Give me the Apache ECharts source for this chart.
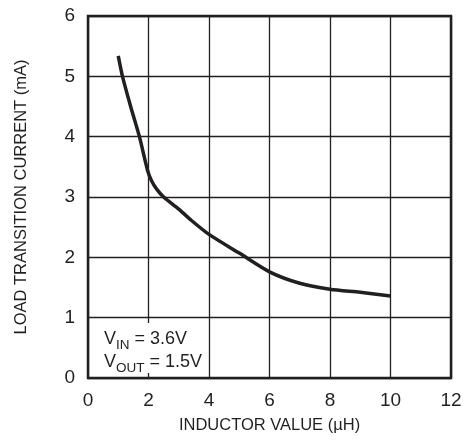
<!DOCTYPE html>
<html lang="en">
<head>
    <meta charset="UTF-8">
    <title>Load Transition Current vs Inductor Value</title>
    <script src="https://cdn.jsdelivr.net/npm/echarts@6/dist/echarts.min.js"></script>
    <style>
        html, body { margin: 0; padding: 0; background: #fff; }
    </style>
</head>
<body>
<div id="main" style="width: 476px;height:442px;"></div>

<script type="text/javascript">
    // inductor value (uH) and load transition current (mA)
    var inductance = [1, 1.14, 1.41, 1.7, 1.97, 2.1, 2.27, 2.5, 3, 3.4, 4, 5, 6, 7, 8, 9, 10];
    var current = [5.34, 5.0, 4.5, 4.0, 3.44, 3.27, 3.13, 3.0, 2.8, 2.62, 2.38, 2.07, 1.76, 1.57, 1.47, 1.42, 1.36];

    var xTicks = [0, 2, 4, 6, 8, 10, 12];
    var yTicks = [0, 1, 2, 3, 4, 5, 6];

    var ink = '#231f20';
    var font = '"Liberation Sans", Arial, sans-serif';

    var points = [];
    for (var i = 0; i < inductance.length; i++) {
        points.push([inductance[i], current[i]]);
    }

    var myChart = echarts.init(document.getElementById('main'));

    var option = {
        animation: false,
        backgroundColor: '#fff',
        textStyle: { fontFamily: font, color: ink },
        grid: {
            left: 88,
            right: 25,
            top: 16,
            bottom: 64,
            show: true,
            borderColor: ink,
            borderWidth: 2.5,
            backgroundColor: 'transparent'
        },
        xAxis: {
            type: 'value',
            min: xTicks[0],
            max: xTicks[xTicks.length - 1],
            interval: 2,
            name: 'INDUCTOR VALUE (\u00b5H)',
            nameLocation: 'middle',
            nameGap: 39,
            nameTextStyle: { fontSize: 16.5, color: ink, fontFamily: font },
            axisLine: { show: false },
            axisTick: { show: false },
            axisLabel: { fontSize: 19, color: ink, margin: 13, fontFamily: font },
            splitLine: { show: true, lineStyle: { color: ink, width: 1.3 } }
        },
        yAxis: {
            type: 'value',
            min: yTicks[0],
            max: yTicks[yTicks.length - 1],
            interval: 1,
            name: 'LOAD TRANSITION CURRENT (mA)',
            nameLocation: 'middle',
            nameGap: 58,
            nameTextStyle: { fontSize: 16.5, color: ink, fontFamily: font },
            axisLine: { show: false },
            axisTick: { show: false },
            axisLabel: { fontSize: 19, color: ink, margin: 13, fontFamily: font },
            splitLine: { show: true, lineStyle: { color: ink, width: 1.3 } }
        },
        graphic: [{
            type: 'text',
            left: 102,
            top: 323,
            z: 10,
            style: {
                text: '{v|V}{s|IN}{v| = 3.6V}\n{v|V}{s|OUT}{v| = 1.5V}',
                fill: ink,
                backgroundColor: '#fff',
                padding: [2, 4, 2, 2],
                rich: {
                    v: { fontSize: 18, fontFamily: font, fill: ink, lineHeight: 23, verticalAlign: 'bottom' },
                    s: { fontSize: 13.5, fontFamily: font, fill: ink, lineHeight: 23, verticalAlign: 'bottom', padding: [0, 0, -4, 0] }
                }
            }
        }],
        series: [{
            type: 'line',
            data: points,
            smooth: 0.25,
            showSymbol: false,
            lineStyle: { color: ink, width: 3.5 }
        }]
    };

    myChart.setOption(option);
</script>
</body>
</html>
